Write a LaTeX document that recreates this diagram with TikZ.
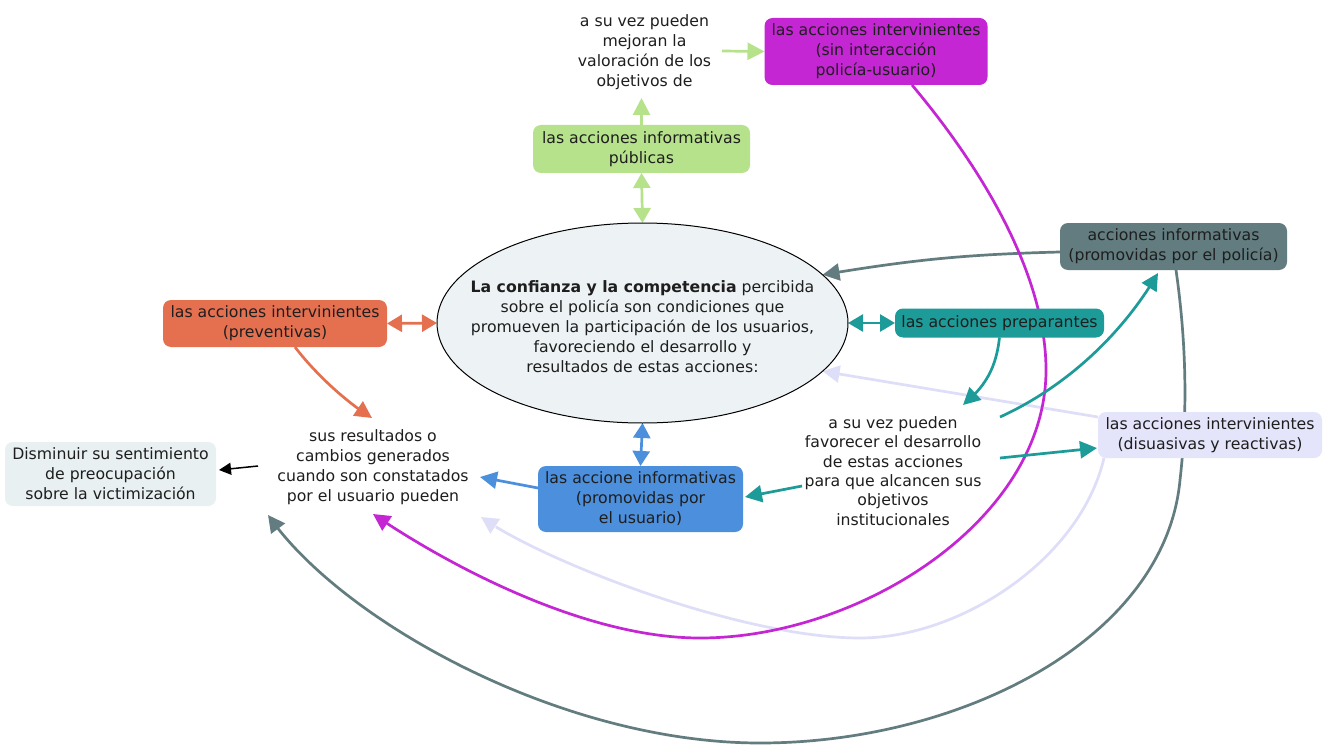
\documentclass[tikz,border=0pt]{standalone}
\usepackage{fontspec}
\setmainfont{DejaVu Sans}
\usetikzlibrary{arrows.meta,bending,shapes.geometric}
\pgfdeclarelayer{bg}
\pgfsetlayers{bg,main}

\definecolor{cPur}{RGB}{197,38,211}
\definecolor{cGrn}{RGB}{182,226,140}
\definecolor{cOra}{RGB}{228,112,80}
\definecolor{cBlu}{RGB}{76,143,220}
\definecolor{cTea}{RGB}{28,155,153}
\definecolor{cGry}{RGB}{98,124,127}
\definecolor{cLav}{RGB}{228,228,250}
\definecolor{cLavLine}{RGB}{222,222,248}
\definecolor{cDis}{RGB}{232,240,242}
\definecolor{cEll}{RGB}{237,243,245}
\definecolor{cTxt}{RGB}{30,30,30}

\begin{document}
\begin{tikzpicture}[x=1pt,y=-1pt,
  font=\fontsize{15.7}{20}\selectfont, text=cTxt,
  box/.style={rounded corners=8pt, align=center, inner sep=0pt, outer sep=0pt},
  plain/.style={align=center, inner sep=0pt, outer sep=0pt},
  con/.style={line width=2.7pt, -{Triangle[length=17pt,width=17pt]}},
  dbl/.style={line width=2.7pt, {Triangle[length=15pt,width=17pt]}-{Triangle[length=15pt,width=17pt]}},
]
\useasboundingbox (0,0) rectangle (1330,746);

% concept boxes
\node[box, fill=cPur, minimum width=223pt, minimum height=67pt] (pur) at (876,51.5)
  {las acciones intervinientes\\(sin interacción\\policía-usuario)};
\node[box, fill=cGrn, minimum width=217pt, minimum height=48pt] (grn) at (641.5,149)
  {las acciones informativas\\públicas};
\node[plain] (top) at (644.5,52.5)
  {a su vez pueden\\mejoran la\\valoración de los\\objetivos de};
\node[ellipse, draw=black, line width=1pt, fill=cEll, minimum width=411pt,
  minimum height=200pt, inner sep=0pt, outer sep=0pt] (ell) at (642.5,323) {};
\node[plain] (elltxt) at (642.5,327)
  {\textbf{La confianza y la competencia} percibida\\sobre el policía son condiciones que\\promueven la participación de los usuarios,\\favoreciendo el desarrollo y\\resultados de estas acciones:};
\node[box, fill=cOra, minimum width=224pt, minimum height=47pt] (ora) at (275,323.5)
  {las acciones intervinientes\\(preventivas)};
\node[plain] (res) at (373,467)
  {sus resultados o\\cambios generados\\cuando son constatados\\por el usuario pueden};
\node[box, fill=cDis, minimum width=211pt, minimum height=64pt] (dis) at (110.5,474)
  {Disminuir su sentimiento\\de preocupación\\sobre la victimización};
\node[box, fill=cBlu, minimum width=205pt, minimum height=66pt] (blu) at (640.5,499)
  {las accione informativas\\(promovidas por\\el usuario)};
\node[box, fill=cTea, minimum width=209pt, minimum height=29pt] (tea) at (999.5,323)
  {las acciones preparantes};
\node[plain, font=\fontsize{15.7}{19.3}\selectfont] (fav) at (893,471)
  {a su vez pueden\\favorecer el desarrollo\\de estas acciones\\para que alcancen sus\\objetivos\\institucionales};
\node[box, fill=cGry, minimum width=227pt, minimum height=47pt] (gry) at (1173.5,246.5)
  {acciones informativas\\(promovidas por el policía)};
\node[box, fill=cLav, minimum width=224pt, minimum height=46pt] (lav) at (1210,435)
  {las acciones intervinientes\\(disuasivas y reactivas)};

\begin{pgfonlayer}{bg}
\fill[white] (0,0) rectangle (1330,746);

% lavender links (lowest, crossed by the others)
\draw[con, cLavLine] ([yshift=-5pt]lav.north west) -- (ell.-15.3);
\draw[con, cLavLine] ([xshift=6pt]lav.south west) .. controls (1080,560) and (960,638) .. (860,638)
  .. controls (740,638) and (540,560) .. ([shift={(108,50)}]res.center);

% green links
\draw[con, cGrn] ([shift={(77.5,-1.5)}]top.center) -- (pur.west);
\draw[con, cGrn] (grn.north) -- ([shift={(-3,45.5)}]top.center);
\draw[dbl, cGrn] (grn.south) -- (ell.north);

% orange links
\draw[dbl, cOra] (ora.east) -- (ell.west);
\draw[con, cOra] ([xshift=20pt]ora.south) .. controls (310,367) and (340,398) .. ([shift={(-1,-49)}]res.center);

% result to goal
\draw[line width=1.5pt, black, -{Triangle[length=12pt,width=12pt]}]
  ([shift={(-115,-1)}]res.center) -- ([shift={(3,-4)}]dis.east);

% blue links
\draw[dbl, cBlu] (ell.south) -- (blu.north);
\draw[con, cBlu] ([yshift=11pt]blu.west) -- ([shift={(107,10)}]res.center);

% grey links
\draw[con, cGry] ([yshift=-5.5pt]gry.west) to[bend right=4] (ell.15.6);
\draw[con, cGry] ([xshift=2.5pt]gry.south) .. controls (1186,340) and (1188,410) .. (1180,480)
  .. controls (1165,640) and (960,743) .. (760,743)
  .. controls (560,743) and (340,620) .. ([shift={(-105,48)}]res.center);

% purple link
\draw[con, cPur] ([xshift=36pt]pur.south) .. controls (1000,190) and (1046,290) .. (1046,370)
  .. controls (1046,520) and (860,638) .. (700,638)
  .. controls (580,638) and (440,560) .. ([shift={(0,47)}]res.center);

% teal links
\draw[dbl, cTea] (ell.east) -- (tea.west);
\draw[con, cTea] (tea.south) to[bend left=22] ([shift={(70,-66)}]fav.center);
\draw[con, cTea] ([shift={(107,-54)}]fav.center) .. controls (1070,385) and (1125,330) .. ([shift={(-15.5,3)}]gry.south);
\draw[con, cTea] ([shift={(107,-13)}]fav.center) -- ([shift={(-1,13)}]lav.west);
\draw[con, cTea] ([shift={(-91,15)}]fav.center) -- ([shift={(2,-2)}]blu.east);
\end{pgfonlayer}
\end{tikzpicture}
\end{document}
